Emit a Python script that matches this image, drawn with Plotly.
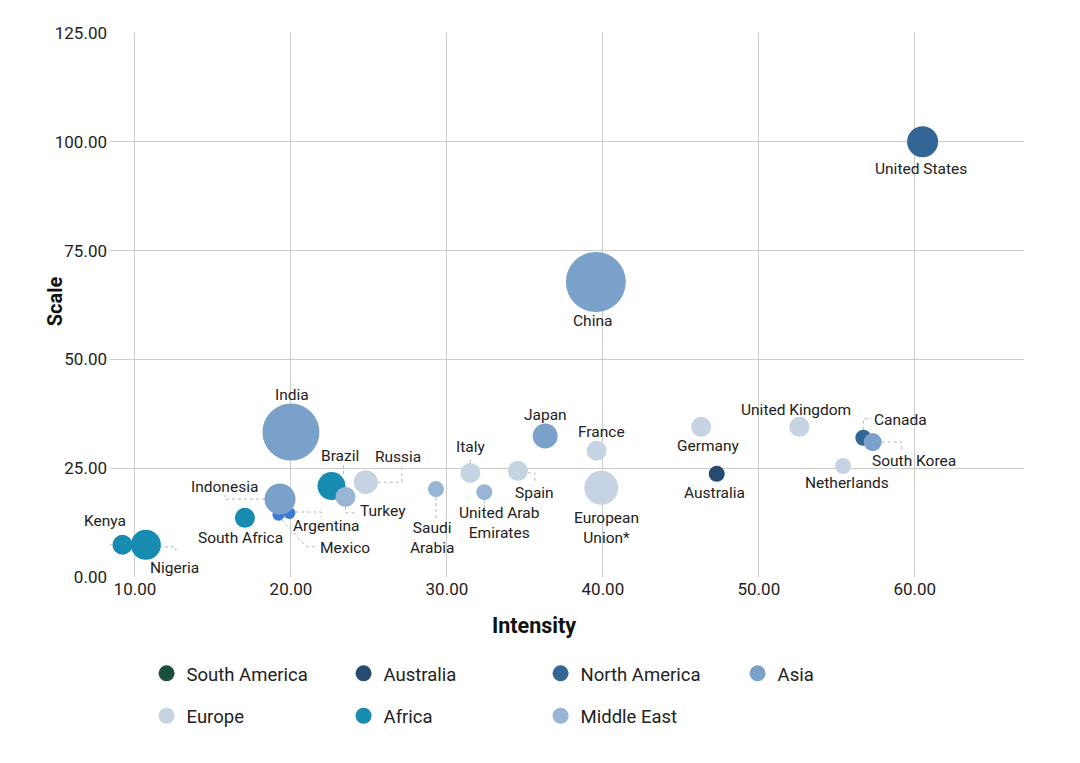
import plotly.graph_objects as go

# ---- data ----
countries = ["United States", "China", "India", "Japan", "France", "Germany",
             "United Kingdom", "Canada", "South Korea", "Netherlands", "Australia",
             "European Union*", "Spain", "Italy", "United Arab Emirates", "Saudi Arabia",
             "Russia", "Brazil", "Turkey", "Indonesia", "Argentina", "Mexico",
             "South Africa", "Kenya", "Nigeria"]
intensity = [60.5, 39.55, 20.0, 36.3, 39.6, 46.3,
             52.6, 56.7, 57.3, 55.4, 47.3,
             39.9, 34.55, 31.5, 32.4, 29.3,
             24.8, 22.6, 23.5, 19.3, 19.9, 19.2,
             17.05, 9.2, 10.7]
scale = [100.0, 67.8, 33.3, 32.4, 29.0, 34.5,
         34.5, 32.0, 31.0, 25.5, 23.7,
         20.5, 24.4, 23.9, 19.5, 20.2,
         21.8, 20.9, 18.4, 17.9, 14.7, 14.3,
         13.6, 7.4, 7.4]
bubble = [31, 60, 57, 25, 20, 20,
          20, 16, 18, 16, 16,
          34, 20, 20, 16, 16,
          24, 28, 20, 31, 12, 12,
          20, 20, 30]
region = ["North America", "Asia", "Asia", "Asia", "Europe", "Europe",
          "Europe", "North America", "Asia", "Europe", "Australia",
          "Europe", "Europe", "Europe", "Middle East", "Middle East",
          "Europe", "Other", "Middle East", "Asia", "Other", "Other",
          "Africa", "Africa", "Africa"]

legend_regions = ["South America", "Australia", "North America", "Asia",
                  "Europe", "Africa", "Middle East"]
region_colors = {"South America": "#1b4e3f", "Australia": "#264a70",
                 "North America": "#336595", "Asia": "#7aa1c9",
                 "Europe": "#c6d3e2", "Africa": "#178bb0",
                 "Middle East": "#98b5d5"}
other_colors = {"Brazil": "#178bb0", "Argentina": "#3d7ad6", "Mexico": "#3d7ad6"}

# ---- label placement (pixel offsets, up = positive) ----
label_offset = {
    "United States": (-2, -27), "China": (-3, -39), "India": (1, 37),
    "Japan": (0, 21), "France": (5, 19), "Germany": (7, -19),
    "United Kingdom": (-3, 17), "Canada": (37, 18), "South Korea": (41, -19),
    "Netherlands": (4, -17), "Australia": (-2, -19), "European Union*": (5, -40),
    "Spain": (17, -22), "Italy": (0, 26), "United Arab Emirates": (15, -31),
    "Saudi Arabia": (-4, -49), "Russia": (32, 25), "Brazil": (9, 30),
    "Turkey": (37, -14), "Indonesia": (-56, 12), "Argentina": (37, -13),
    "Mexico": (67, -33), "South Africa": (-4, -20), "Kenya": (-17, 24),
    "Nigeria": (29, -23),
}
label_text = {"European Union*": "European<br>Union*",
              "United Arab Emirates": "United Arab<br>Emirates",
              "Saudi Arabia": "Saudi<br>Arabia"}
leaders = {
    "Kenya": [(-10, 0), (-19, 0), (-19, 14)],
    "Nigeria": [(13, -2), (30, -2), (30, -9)],
    "Indonesia": [(-15, 0), (-55, 0), (-55, 4)],
    "Argentina": [(6, 1), (32, 1), (32, -4)],
    "Mexico": [(3, -5), (28, -32), (40, -32)],
    "Brazil": [(12, 21), (12, 11)],
    "Russia": [(12, 0), (36, 0), (36, 16)],
    "Turkey": [(0, -10), (0, -16), (12, -16)],
    "Saudi Arabia": [(0, -8), (0, -32)],
    "United Arab Emirates": [(0, -8), (0, -18)],
    "Italy": [(0, 10), (0, 16)],
    "Spain": [(10, -2), (17, -2), (17, -12)],
    "Canada": [(0, 8), (0, 19), (8, 19)],
    "South Korea": [(9, 0), (29, 0), (29, -10)],
}

FONT = "Roboto, Arial, sans-serif"
fig = go.Figure()

# non-legend points (drawn first, beneath)
idx = [i for i, r in enumerate(region) if r == "Other"]
fig.add_trace(go.Scatter(
    x=[intensity[i] for i in idx], y=[scale[i] for i in idx], mode="markers",
    marker=dict(size=[bubble[i] for i in idx], sizemode="diameter",
                color=[other_colors[countries[i]] for i in idx], opacity=1,
                line=dict(width=0)),
    text=[countries[i] for i in idx], hoverinfo="text", showlegend=False))

second_row = {"Europe", "Africa", "Middle East"}
for reg in legend_regions:
    idx = [i for i, r in enumerate(region) if r == reg]
    fig.add_trace(go.Scatter(
        x=[intensity[i] for i in idx] or [None],
        y=[scale[i] for i in idx] or [None],
        mode="markers", name=reg,
        legend="legend2" if reg in second_row else "legend",
        marker=dict(size=[bubble[i] for i in idx] or [16], sizemode="diameter",
                    color=region_colors[reg], opacity=1, line=dict(width=0)),
        text=[countries[i] for i in idx], hoverinfo="text"))

shapes = []
for c, pts in leaders.items():
    i = countries.index(c)
    path = "M" + " L".join(f"{dx},{dy}" for dx, dy in pts)
    shapes.append(dict(type="path", path=path, xref="x", yref="y",
                       xsizemode="pixel", ysizemode="pixel",
                       xanchor=intensity[i], yanchor=scale[i],
                       line=dict(color="#b5b5b5", width=1, dash="dot"),
                       layer="below"))

annotations = []
for i, c in enumerate(countries):
    dx, dy = label_offset[c]
    annotations.append(dict(x=intensity[i], y=scale[i], xref="x", yref="y",
                            text=label_text.get(c, c), showarrow=False,
                            xshift=dx, yshift=dy,
                            font=dict(family=FONT, size=15.5, color="#222222")))
annotations.append(dict(x=0.464, y=0, xref="paper", yref="paper", yshift=-48,
                        text="<b>Intensity</b>", showarrow=False,
                        xanchor="center", yanchor="middle",
                        font=dict(family=FONT, size=21.5, color="#111111")))
annotations.append(dict(x=0, y=0.507, xref="paper", yref="paper", xshift=-55,
                        text="<b>Scale</b>", showarrow=False, textangle=-90,
                        xanchor="center", yanchor="middle",
                        font=dict(family=FONT, size=20, color="#111111")))

legend_common = dict(orientation="h", x=0.04, xanchor="left", yanchor="top",
                     entrywidth=152, itemsizing="trace", itemwidth=30,
                     font=dict(family=FONT, size=18.5, color="#222222"),
                     bgcolor="rgba(0,0,0,0)")

fig.update_layout(
    width=1080, height=763,
    margin=dict(l=102, r=64, t=25, b=194),
    paper_bgcolor="white", plot_bgcolor="white",
    font=dict(family=FONT, size=17, color="#222222"),
    xaxis=dict(range=[8.4, 67], tickvals=[10, 20, 30, 40, 50, 60],
               tickformat=".2f", showgrid=True, gridcolor="#cccccc",
               gridwidth=1, zeroline=False, showline=False,
               ticks="", tickfont=dict(size=17, color="#222222")),
    yaxis=dict(range=[0, 125], tickvals=[0, 25, 50, 75, 100, 125],
               tickformat=".2f", showgrid=True, gridcolor="#cccccc",
               gridwidth=1, zeroline=False, showline=False, ticks="",
               ticklabelstandoff=2,
               tickfont=dict(size=17, color="#222222")),
    legend=dict(y=-0.143, **legend_common),
    legend2=dict(y=-0.221, **legend_common),
    shapes=shapes, annotations=annotations,
)

fig.write_html("out.html")
